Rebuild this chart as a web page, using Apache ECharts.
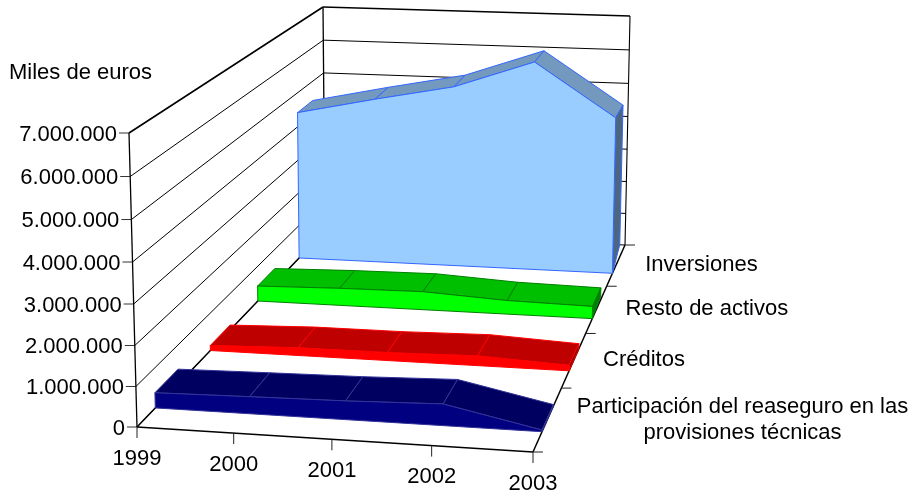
<!DOCTYPE html>
<html><head><meta charset="utf-8">
<style>html,body{margin:0;padding:0;background:#fff}#c{width:914px;height:497px}</style>
<script src="https://cdn.jsdelivr.net/npm/echarts@6/dist/echarts.min.js"></script>
</head><body><div id="c"></div>
<script>
var years = ['1999','2000','2001','2002','2003'];
var yTicks = [0,1000000,2000000,3000000,4000000,5000000,6000000,7000000];
var yLabels = ['0','1.000.000','2.000.000','3.000.000','4.000.000','5.000.000','6.000.000','7.000.000'];
var depthNames = ['Participación del reaseguro en las\nprovisiones técnicas','Créditos','Resto de activos','Inversiones'];
var participacion = [385000,430000,470000,540000,42000];
var creditos = [135000,208000,213000,260000,146000];
var resto = [437000,494000,520000,390000,348000];
var inversiones = [4420000,4900000,5345000,6140000,4620000];
var unitLabel = 'Miles de euros';

// view of the box: corners of floor and of the plane at axis maximum
var FLOOR = [[137,427],[533,452],[625,245],[325,231]];
var ROOF  = [[129,133],[537,152],[630,16],[323,7]];
var RISE = 0.041;   // vertical foreshortening
var FONT = 'Liberation Sans';
var FS = 22;
var TEXT_DY = 1.5;

function homography(q){
  var x0=q[0][0],y0=q[0][1],x1=q[1][0],y1=q[1][1],x2=q[2][0],y2=q[2][1],x3=q[3][0],y3=q[3][1];
  var dx1=x1-x2,dx2=x3-x2,sx=x0-x1+x2-x3,dy1=y1-y2,dy2=y3-y2,sy=y0-y1+y2-y3;
  var den=dx1*dy2-dx2*dy1;
  var g=(sx*dy2-dx2*sy)/den,h=(dx1*sy-sx*dy1)/den;
  return function(u,v){
    var w=g*u+h*v+1;
    return [((x1-x0+g*x1)*u+(x3-x0+h*x3)*v+x0)/w,((y1-y0+g*y1)*u+(y3-y0+h*y3)*v+y0)/w];
  };
}
var floorAt=homography(FLOOR), roofAt=homography(ROOF);
function project(u,v,t){
  var a=floorAt(u,v),b=roofAt(u,v);
  var s=t*(1-RISE)/(1-RISE*t);
  return [a[0]+(b[0]-a[0])*s,a[1]+(b[1]-a[1])*s];
}
// grid-based normalisation: the hidden cartesian axes give u and t
function norm(params,api,xv,yv){
  var p=api.coord([xv,yv]),r=params.coordSys;
  return [(p[0]-r.x)/r.width,(r.y+r.height-p[1])/r.height];
}
var measure=document.createElement('canvas').getContext('2d');
function textW(s){
  measure.font=FS+'px "'+FONT+'"';
  return Math.max.apply(null,s.split('\n').map(function(l){return measure.measureText(l).width;}));
}
function line(a,b,w,c){
  return {type:'line',silent:true,shape:{x1:a[0],y1:a[1],x2:b[0],y2:b[1]},style:{stroke:c||'#000',lineWidth:w||1}};
}
function label(s,x,y,align){
  return {type:'text',silent:true,style:{text:s,x:x,y:y+TEXT_DY,align:align,verticalAlign:'middle',lineHeight:26,fontSize:FS,fontFamily:FONT,fill:'#000'}};
}
function poly(pts,fill,stroke){
  return {type:'polygon',silent:true,shape:{points:pts},style:{fill:fill,stroke:stroke,lineWidth:1,lineJoin:'round'}};
}

var bandLo=0.3, bandHi=0.7, nDepth=depthNames.length;

function wallItem(params,api){
  var val=api.value(0), idx=params.dataIndex;
  var t=norm(params,api,0,val)[1];
  var top=idx===yTicks.length-1;
  var a=project(0,0,t),b=project(0,1,t),c=project(1,1,t);
  var w=top?1.6:1;
  var kids=[line(a,b,w),line(b,c,w),line([a[0]-10,a[1]],a,1,'#333'),
            label(yLabels[idx],a[0]-12,a[1],'right')];
  if(top){
    kids.push(line(project(0,0,0),project(0,0,1),1.3));
    kids.push(line(project(0,1,0),project(0,1,1),1.3));
    kids.push(line(project(1,1,0),project(1,1,1),1.1));
    kids.push(line(project(0,0,0),project(1,0,0),1.5));
    kids.push(line(project(0,0,0),project(0,1,0),1.5));
    kids.push(line(project(1,0,0),project(1,1,0),1.5));
  }
  return {type:'group',children:kids};
}
function yearItem(params,api){
  var i=api.value(0), u=norm(params,api,i,0)[0];
  var p=project(u,0,0);
  return {type:'group',children:[line(p,[p[0],p[1]+11],1,'#222'),label(years[i],p[0],p[1]+30,'center')]};
}
function depthItem(params,api){
  var i=api.value(0);
  var kids=[];
  var e0=project(1,i/nDepth,0), e1=project(1,(i+1)/nDepth,0), m=project(1,(i+0.5)/nDepth,0);
  kids.push(line(e0,[e0[0]+10,e0[1]],1,'#222'));
  if(i===nDepth-1) kids.push(line(e1,[e1[0]+10,e1[1]],1,'#222'));
  var s=depthNames[i], w=textW(s);
  kids.push(label(s,m[0]+29+w/2,m[1]-(i===0?0:1.5),'center'));
  return {type:'group',children:kids};
}
function areaSeries(name,values,k,face,topC,side,stroke,sideLift){
  var vF=(k+bandLo)/nDepth, vB=(k+bandHi)/nDepth;
  return {
    name:name,type:'custom',coordinateSystem:'cartesian2d',clip:false,silent:true,z:3+(nDepth-k),
    data:values.map(function(v,i){return [i,v];}),
    encode:{x:0,y:1},
    renderItem:function(params,api){
      var i=params.dataIndex,last=values.length-1,kids=[];
      var a=norm(params,api,i,values[i]);
      if(i<last){
        var b=norm(params,api,i+1,values[i+1]);
        kids.push(poly([project(a[0],vF,a[1]),project(b[0],vF,b[1]),project(b[0],vB,b[1]),project(a[0],vB,a[1])],topC,stroke));
      } else {
        var sb=project(a[0],vB,0);
        kids.push(poly([project(a[0],vF,0),project(a[0],vF,a[1]),project(a[0],vB,a[1]),[sb[0],sb[1]-sideLift]],side,stroke));
        var pts=[project(0,vF,0)];
        for(var j=0;j<=last;j++){var n=norm(params,api,j,values[j]);pts.push(project(n[0],vF,n[1]));}
        pts.push(project(1,vF,0));
        kids.push(poly(pts,face,stroke));
      }
      return {type:'group',children:kids};
    }
  };
}
function idx(a){return a.map(function(v){return [v];});}

var chart=echarts.init(document.getElementById('c'),null,{renderer:'canvas'});
chart.setOption({
  animation:false,
  backgroundColor:'#fff',
  title:{text:unitLabel,left:9,top:62,padding:0,textStyle:{fontFamily:FONT,fontSize:FS,fontWeight:'normal',color:'#000'}},
  grid:{left:0,right:0,top:0,bottom:0},
  xAxis:{type:'category',data:years,boundaryGap:false,show:false},
  yAxis:{type:'value',min:0,max:7000000,interval:1000000,show:false},
  series:[
    {type:'custom',name:'walls',coordinateSystem:'cartesian2d',clip:false,silent:true,z:1,data:idx(yTicks),encode:{y:0},
     renderItem:wallItem},
    {type:'custom',name:'years',coordinateSystem:'cartesian2d',clip:false,silent:true,z:2,data:years.map(function(y,i){return [i];}),encode:{x:0},
     renderItem:yearItem},
    {type:'custom',name:'depth',coordinateSystem:'cartesian2d',clip:false,silent:true,z:2,data:depthNames.map(function(y,i){return [i];}),encode:{x:0},
     renderItem:depthItem},
    areaSeries('Inversiones',inversiones,3,'#99CCFF','#7399BF','#4D6680','#3366FF',12),
    areaSeries('Resto de activos',resto,2,'#00FF00','#00BF00','#008000','#008000',3),
    areaSeries('Créditos',creditos,1,'#FF0000','#BF0000','#800000','#FF0000',0),
    areaSeries('Participación',participacion,0,'#000080','#000060','#000040','#333399',0)
  ]
});
</script></body></html>
